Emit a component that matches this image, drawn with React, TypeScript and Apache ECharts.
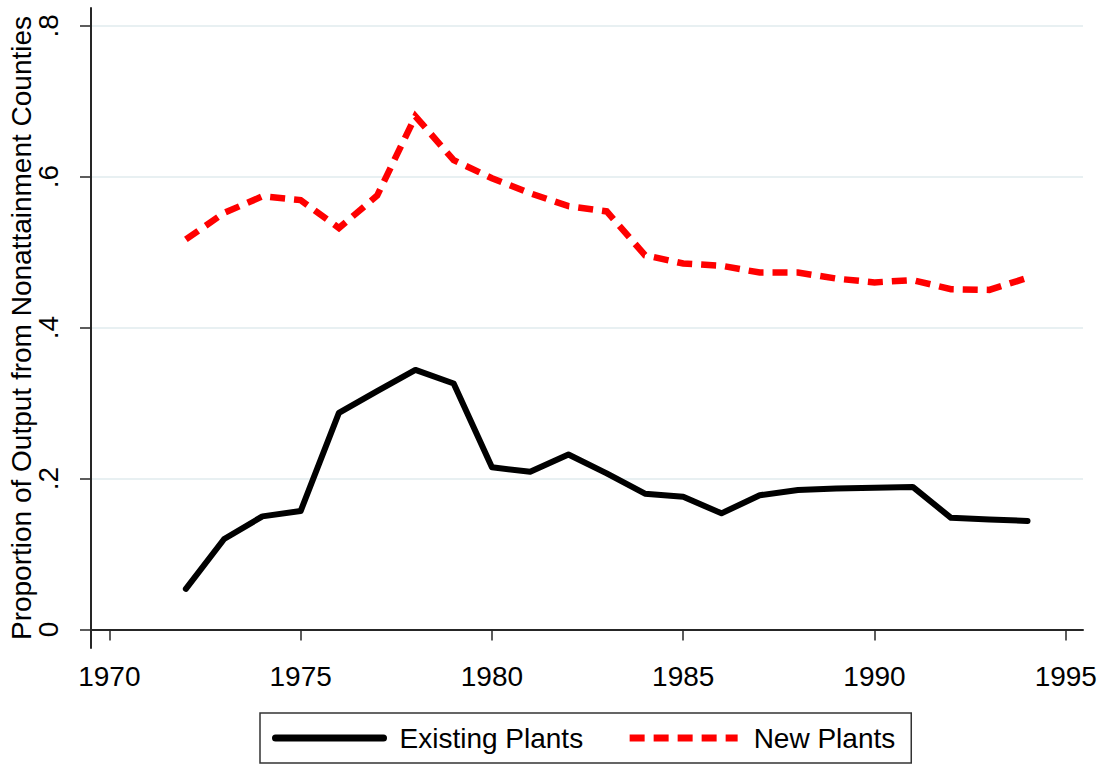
import React, { useEffect, useRef } from "react";
import * as echarts from "echarts";

const years = [1972, 1973, 1974, 1975, 1976, 1977, 1978, 1979, 1980, 1981, 1982, 1983, 1984, 1985, 1986, 1987, 1988, 1989, 1990, 1991, 1992, 1993, 1994];
const existingPlants = [0.054, 0.120, 0.150, 0.157, 0.287, 0.316, 0.344, 0.326, 0.215, 0.209, 0.232, 0.207, 0.180, 0.176, 0.154, 0.178, 0.185, 0.187, 0.188, 0.189, 0.148, 0.146, 0.144];
const newPlants = [0.517, 0.552, 0.574, 0.569, 0.532, 0.575, 0.680, 0.622, 0.598, 0.578, 0.561, 0.554, 0.496, 0.485, 0.482, 0.473, 0.473, 0.465, 0.460, 0.463, 0.451, 0.450, 0.466];
const xTicks = [1970, 1975, 1980, 1985, 1990, 1995];
const yTicks = [0, 0.2, 0.4, 0.6, 0.8];
const seriesNames = ["Existing Plants", "New Plants"];

const FONT = 'Arial, "Liberation Sans", Helvetica, sans-serif';

export default function App() {
  const ref = useRef<HTMLDivElement>(null);
  useEffect(() => {
    if (!ref.current) return;
    const chart = echarts.init(ref.current, null, { renderer: "svg" });
    chart.setOption({
      animation: false,
      backgroundColor: "#ffffff",
      grid: { left: 91, right: 21, top: 8, bottom: 117, containLabel: false, outerBoundsMode: "none" },
      xAxis: {
        type: "value",
        min: 1969.52,
        max: 1995.45,
        axisLine: { show: true, lineStyle: { color: "#262626", width: 2 } },
        axisTick: { show: true, customValues: xTicks, length: 11, lineStyle: { color: "#262626", width: 1.5 } },
        axisLabel: {
          customValues: xTicks,
          margin: 14,
          fontSize: 28,
          color: "#000",
          fontFamily: FONT,
          formatter: (v: number) => String(v),
        },
        splitLine: { show: false },
      },
      yAxis: {
        type: "value",
        min: -0.0244,
        max: 0.8235,
        name: "Proportion of Output from Nonattainment Counties",
        nameLocation: "middle",
        nameGap: 56,
        nameMoveOverlap: false,
        nameTextStyle: { fontSize: 28, color: "#000", fontFamily: FONT },
        axisLine: { show: true, lineStyle: { color: "#262626", width: 2 } },
        axisTick: { show: true, customValues: yTicks, length: 11, lineStyle: { color: "#262626", width: 1.5 } },
        axisLabel: {
          customValues: yTicks,
          rotate: 90,
          margin: 29,
          fontSize: 28,
          color: "#000",
          fontFamily: FONT,
          formatter: (v: number) => (v === 0 ? "0" : v.toFixed(1).replace(/^0/, "")),
        },
        splitLine: { show: true, lineStyle: { color: "#e8f0f2", width: 2 } },
      },
      legend: {
        left: 260,
        top: 713,
        orient: "horizontal",
        padding: [11, 16, 11, 12],
        itemGap: 43,
        itemWidth: 108,
        itemHeight: 7,
        borderColor: "#333",
        borderWidth: 1.5,
        lineStyle: { width: 7 },
        textStyle: { fontSize: 28, color: "#000", fontFamily: FONT, padding: [0, 0, 0, 11] },
        data: seriesNames,
      },
      series: [
        {
          name: seriesNames[0],
          type: "line",
          symbol: "none",
          data: years.map((y, i) => [y, existingPlants[i]]),
          lineStyle: { color: "#000", width: 6, join: "round", cap: "round" },
          itemStyle: { color: "#000" },
        },
        {
          name: seriesNames[1],
          type: "line",
          symbol: "none",
          data: years.map((y, i) => [y, newPlants[i]]),
          lineStyle: { color: "#ff0000", width: 6.5, type: [15, 9], cap: "butt", join: "miter" },
          itemStyle: { color: "#ff0000" },
        },
      ],
    });
    return () => chart.dispose();
  }, []);
  return <div ref={ref} style={{ position: "absolute", left: 0, top: 0, width: 1104, height: 765 }} />;
}
